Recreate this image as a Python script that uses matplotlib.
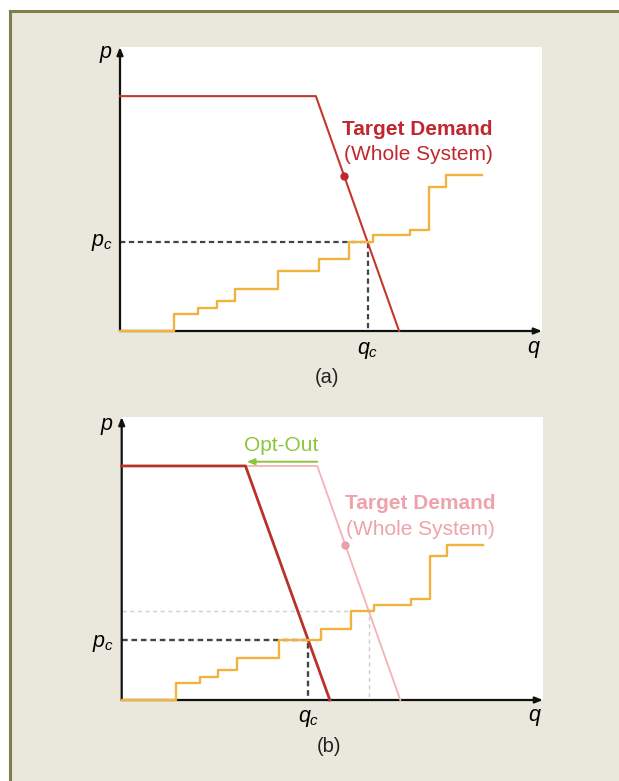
import matplotlib
matplotlib.use("Agg")
import matplotlib.pyplot as plt
from matplotlib.patches import Rectangle
from matplotlib.lines import Line2D

plt.rcParams['font.family'] = ['Liberation Sans', 'DejaVu Sans']
plt.rcParams['mathtext.fontset'] = 'custom'
plt.rcParams['mathtext.it'] = 'Liberation Sans:italic'
plt.rcParams['mathtext.rm'] = 'Liberation Sans'

# supply staircase (quantity break points, price levels)
supply_q = [0, 12.9, 18.6, 23.0, 27.4, 37.5, 47.4, 54.6, 60.2, 69.0, 73.4, 77.6, 86.1]
supply_p = [0, 6.1, 8.2, 10.6, 14.7, 21.1, 25.2, 31.3, 33.7, 35.6, 50.8, 54.9, 54.9]

# target demand of whole system: flat cap, knee, q-intercept
demand_q = [0, 46.6, 66.4]
demand_p = [82.7, 82.7, 0]
# demand after opt-out (shifted left)
optout_q = [0, 29.5, 49.6]
optout_p = [82.7, 82.7, 0]

dot_a = (53.3, 54.6)
eq_a = (58.9, 31.3)   # (q_c, p_c) in panel a
eq_b = (44.5, 21.1)   # (q_c, p_c) in panel b
eq_old = (58.9, 31.3)

RED = '#c4372d'
RED_TXT = '#c1272d'
PINK = '#f3b3b8'
PINK_TXT = '#eea3ab'
ORANGE = '#f2b33d'
GREEN = '#8cc63f'

fig = plt.figure(figsize=(6.19, 7.81), dpi=100, facecolor='white')
W, H = 619, 781

# beige frame with olive border
fig.patches.append(Rectangle((10 / W, 0), 1, (H - 11) / H, transform=fig.transFigure,
                             facecolor='#eae7dc', edgecolor='none', zorder=-10))
fig.lines.append(Line2D([10 / W, 10 / W], [0, (H - 11) / H], transform=fig.transFigure,
                        color='#7f7f4b', lw=2.2, zorder=-5))
fig.lines.append(Line2D([10 / W, 1], [(H - 11) / H, (H - 11) / H], transform=fig.transFigure,
                        color='#7f7f4b', lw=2.2, zorder=-5))


def make_axes(left, top, right, bottom):
    ax = fig.add_axes([left / W, (H - bottom) / H, (right - left) / W, (bottom - top) / H])
    ax.set_facecolor('white')
    ax.set_xlim(0, 100.4)
    ax.set_ylim(0, 100)
    for s in ax.spines.values():
        s.set_visible(False)
    ax.set_xticks([])
    ax.set_yticks([])
    arw = dict(arrowstyle='-|>,head_length=0.45,head_width=0.18', color='#111111', lw=1.6,
               shrinkA=0, shrinkB=0)
    ax.annotate('', xy=(100.4, 0), xytext=(0, 0), arrowprops=arw, annotation_clip=False,
                zorder=2.5)
    ax.annotate('', xy=(0, 100), xytext=(0, 0), arrowprops=arw, annotation_clip=False,
                zorder=2.5)
    return ax


def labels(ax, qc, pc, py, qcy, sub):
    ax.text(-1.8, py, '$p$', ha='right', va='center', fontsize=15.5, clip_on=False)
    ax.text(-1.8, pc, '$p_c$', ha='right', va='center', fontsize=15.5, clip_on=False)
    ax.text(qc, qcy, '$q_c$', ha='center', va='center', fontsize=15.5, clip_on=False)
    ax.text(98.5, qcy + 0.5, '$q$', ha='center', va='center', fontsize=15.5, clip_on=False)
    ax.text(49.3, -16.5, sub, ha='center', va='center', fontsize=14.5, color='#222222',
            clip_on=False)


# ---- panel (a)
ax1 = make_axes(120, 47, 542, 331)
ax1.plot([0, eq_a[0], eq_a[0]], [eq_a[1], eq_a[1], 0], color='#444444', lw=1.6,
         ls=(0, (2.4, 1.6)), zorder=2)
ax1.plot(supply_q, supply_p, drawstyle='steps-post', color=ORANGE, lw=1.7, zorder=4,
         clip_on=False)
ax1.plot(demand_q, demand_p, color=RED, lw=1.5, zorder=3, clip_on=False)
ax1.plot(*dot_a, 'o', color=RED_TXT, ms=5, zorder=5)
ax1.text(52.9, 70.8, 'Target Demand', color=RED_TXT, fontsize=15, fontweight='bold',
         ha='left', va='center')
ax1.text(53.2, 62.0, '(Whole System)', color=RED_TXT, fontsize=15, ha='left', va='center')
labels(ax1, eq_a[0], eq_a[1], 97.5, -7, '(a)')

# ---- panel (b)
ax2 = make_axes(121.7, 417, 543, 700)
ax2.plot([0, eq_old[0], eq_old[0]], [eq_old[1], eq_old[1], 0], color='#cfcfcf', lw=1.0,
         ls=(0, (3, 2.5)), zorder=2)
ax2.plot([0, eq_b[0], eq_b[0]], [eq_b[1], eq_b[1], 0], color='#444444', lw=1.7,
         ls=(0, (2.4, 1.6)), zorder=2)
ax2.plot(supply_q, supply_p, drawstyle='steps-post', color=ORANGE, lw=1.7, zorder=4,
         clip_on=False)
ax2.plot(demand_q, demand_p, color=PINK, lw=1.3, zorder=3, clip_on=False)
ax2.plot(optout_q, optout_p, color='#b8322a', lw=2.0, zorder=3.5, clip_on=False)
ax2.plot(*dot_a, 'o', color='#eba0a8', ms=5, zorder=5)
ax2.annotate('', xy=(optout_q[1] + 0.3, 84.2), xytext=(demand_q[1], 84.2),
             arrowprops=dict(arrowstyle='-|>,head_length=0.45,head_width=0.18',
                             color=GREEN, lw=1.4, shrinkA=0, shrinkB=0))
ax2.text(37.9, 90.0, 'Opt-Out', color=GREEN, fontsize=15, ha='center', va='center')
ax2.text(53.2, 69.6, 'Target Demand', color=PINK_TXT, fontsize=15, fontweight='bold',
         ha='left', va='center')
ax2.text(53.5, 60.3, '(Whole System)', color=PINK_TXT, fontsize=15, ha='left', va='center')
labels(ax2, eq_b[0], eq_b[1] - 1.2, 96.6, -6.6, '(b)')

fig.savefig('out.png', dpi=100, facecolor='white')
